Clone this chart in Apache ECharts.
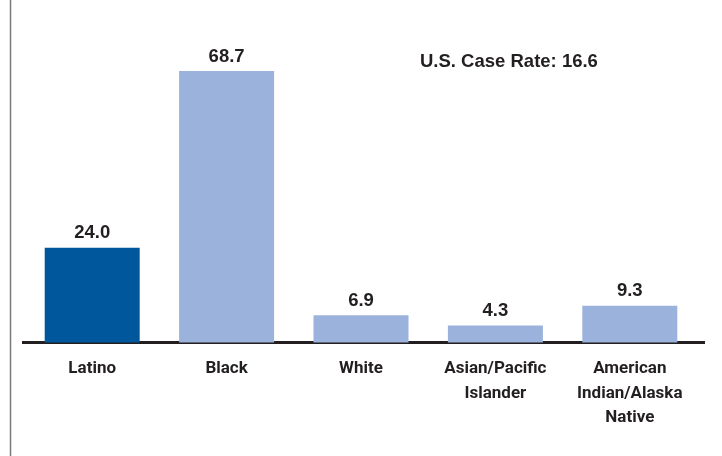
<!DOCTYPE html>
<html><head><meta charset="utf-8">
<script src="https://cdn.jsdelivr.net/npm/echarts@6/dist/echarts.min.js"></script>
<style>html,body{margin:0;padding:0;background:#fff}#c{width:722px;height:456px}</style>
</head><body><div id="c"></div>
<script>
const categories = ['Latino', 'Black', 'White', 'Asian/Pacific\nIslander', 'American\nIndian/Alaska\nNative'];
const caseRates = [24.0, 68.7, 6.9, 4.3, 9.3];
const barColors = ['#00579b', '#9bb2dc', '#9bb2dc', '#9bb2dc', '#9bb2dc'];
const usRateLabel = 'U.S. Case Rate: 16.6';

const chart = echarts.init(document.getElementById('c'));
chart.setOption({
  animation: false,
  backgroundColor: '#fff',
  grid: { left: 25, right: 25, top: 26.3, bottom: 113.5 },
  xAxis: {
    type: 'category',
    data: categories,
    axisLine: { lineStyle: { color: '#231f20', width: 3 } },
    axisTick: { show: false },
    axisLabel: {
      interval: 0,
      margin: 14,
      color: '#231f20',
      fontFamily: '"Liberation Sans Narrow", "Arial Narrow", Roboto, sans-serif',
      fontWeight: 'bold',
      fontSize: 17,
      lineHeight: 24.5
    }
  },
  yAxis: { type: 'value', min: 0, max: 80, show: false, splitLine: { show: false } },
  series: [{
    type: 'bar',
    barWidth: 95,
    data: caseRates.map((v, i) => ({ value: v, itemStyle: { color: barColors[i] } })),
    label: {
      show: true,
      position: 'top',
      distance: 5,
      formatter: p => p.value.toFixed(1),
      color: '#231f20',
      fontFamily: '"Liberation Sans", Arial, sans-serif',
      fontWeight: 'bold',
      fontSize: 18.5
    }
  }],
  graphic: [
    { type: 'line', shape: { x1: 10.5, y1: 0, x2: 10.5, y2: 456 }, style: { stroke: '#7a7a7a', lineWidth: 1.5 } },
    { type: 'line', shape: { x1: 22, y1: 342.5, x2: 26, y2: 342.5 }, style: { stroke: '#231f20', lineWidth: 3 } },
    { type: 'line', shape: { x1: 696, y1: 342.5, x2: 705, y2: 342.5 }, style: { stroke: '#231f20', lineWidth: 3 } },
    { type: 'text', x: 420, y: 62, style: { text: usRateLabel, fill: '#231f20', font: 'bold 18.5px "Liberation Sans", Arial, sans-serif', textVerticalAlign: 'middle' } }
  ]
});
</script></body></html>
